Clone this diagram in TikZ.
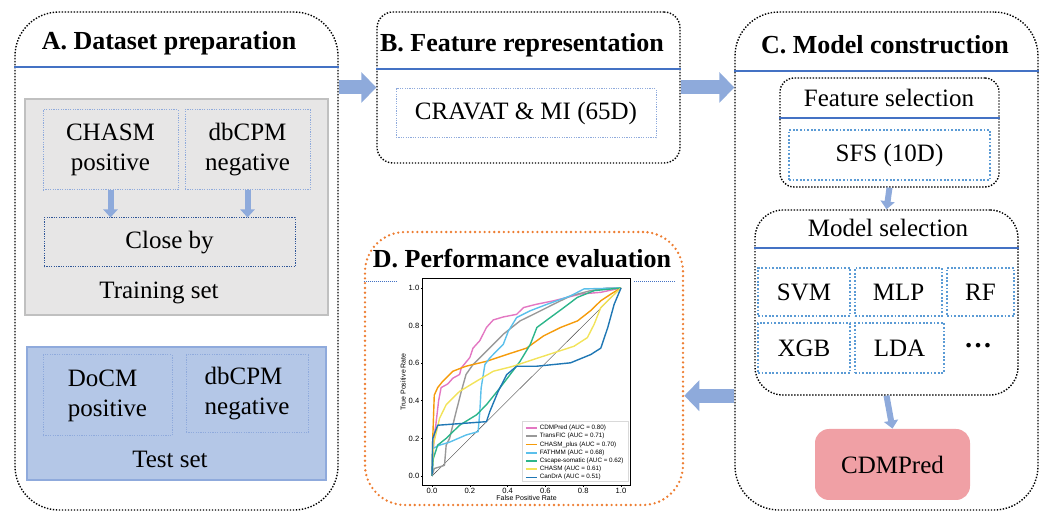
\documentclass[tikz,border=0pt]{standalone}
\usepackage{fontspec}
\setmainfont{Liberation Serif}
\newfontfamily\plotfont{Liberation Sans}
\usepackage{xcolor}
\usepackage{tikz}
\usetikzlibrary{arrows.meta, positioning, fit}

\definecolor{arrowblue}{HTML}{8EAADB}
\definecolor{lineblue}{HTML}{4472C4}
\definecolor{boxblue}{HTML}{8FAADC}
\definecolor{darkblue}{HTML}{2F5597}
\definecolor{midblue}{HTML}{5B9BD5}
\definecolor{traingray}{HTML}{E7E6E6}
\definecolor{trainedge}{HTML}{C0C0C0}
\definecolor{testfill}{HTML}{B4C7E7}
\definecolor{testedge}{HTML}{8FAADC}
\definecolor{predpink}{HTML}{F0A0A5}
\definecolor{evalorange}{HTML}{ED7D31}
\definecolor{roccdm}{HTML}{E377C2}
\definecolor{roctransfic}{HTML}{999999}
\definecolor{rocchasmplus}{HTML}{F59B0A}
\definecolor{rocfathmm}{HTML}{5BC0EB}
\definecolor{roccscape}{HTML}{2CB58A}
\definecolor{rocchasm}{HTML}{F2E35A}
\definecolor{roccandra}{HTML}{1F77B4}

\begin{document}
\begin{tikzpicture}[
    x=0.5pt, y=-0.5pt,
    panel/.style={draw, line width=0.7pt, dash pattern=on 0.7pt off 0.8pt, inner sep=0pt},
    evalpanel/.style={draw=evalorange, line width=1.3pt, dash pattern=on 0pt off 2.4pt, line cap=round, rounded corners=20pt, inner sep=0pt},
    title/.style={font=\fontsize{13}{15}\selectfont\bfseries},
    txt/.style={font=\fontsize{12.5}{15}\selectfont, align=center},
    headline/.style={lineblue, line width=0.6pt},
    srcbox/.style={txt, draw=boxblue, line width=0.5pt, dash pattern=on 0.6pt off 0.6pt, inner sep=0pt},
    modelbox/.style={txt, draw=midblue, line width=0.9pt, dash pattern=on 0.9pt off 0.9pt, inner sep=0pt},
    setbox/.style={draw, line width=0.6pt, inner sep=0pt},
    bigarrow/.style={arrowblue, line width=7pt, -{Triangle[length=7.5pt,width=15pt]}},
    smallarrow/.style={arrowblue, line width=3pt, -{Triangle[length=4pt,width=7pt]}},
    roc/.style={line width=0.7pt, line join=round},
]
    \useasboundingbox (0,0) rectangle (1044,512);

    \node[panel, rounded corners=22pt, fit={(15,12) (338,510)}] (pa) {};
    \node[title] (patitle) at (169,43) {A. Dataset preparation};
    \draw[headline] (pa.west |- 0,67) -- (pa.east |- 0,67);

    \node[setbox, draw=trainedge, fill=traingray, fit={(25,99) (328,315)}] (train) {};
    \node[srcbox, minimum width=67.5pt, minimum height=40pt] (chasmtrain) at (110.5,150) {CHASM\\positive};
    \node[srcbox, minimum width=62.5pt, minimum height=40pt] (dbcpmtrain) at (247.5,150) {dbCPM\\negative};
    \node[srcbox, draw=darkblue, minimum width=125.5pt, minimum height=24.5pt] (closeby) at (169.5,242.5) {Close by};
    \node[txt] (trainlabel) at (159,293) {Training set};

    \draw[smallarrow] (chasmtrain.south) -- (chasmtrain.south |- closeby.north);
    \draw[smallarrow] (dbcpmtrain.south) -- (dbcpmtrain.south |- closeby.north);

    \node[setbox, draw=testedge, fill=testfill, fit={(27,347) (326,480)}] (test) {};
    \node[srcbox, align=left, minimum width=64.5pt, minimum height=40.5pt] (docmtest) at (107.5,395.5) {DoCM\\positive};
    \node[srcbox, align=left, minimum width=61pt, minimum height=39pt] (dbcpmtest) at (247,394) {dbCPM\\negative};
    \node[txt] (testlabel) at (170,459) {Test set};

    \node[panel, rounded corners=8pt, fit={(377,12) (680,163)}] (pb) {};
    \node[title] (pbtitle) at (522,45) {B. Feature representation};
    \draw[headline] (pb.west |- 0,69) -- (pb.east |- 0,69);
    \node[srcbox, minimum width=130pt, minimum height=24.5pt] (cravat) at (526,113.5) {CRAVAT \& MI (65D)};

    \node[panel, rounded corners=22pt, fit={(735,12) (1038,510)}] (pc) {};
    \node[title] (pctitle) at (885,45) {C. Model construction};
    \draw[headline] (pc.west |- 0,71) -- (pc.east |- 0,71);

    \node[panel, rounded corners=7pt, fit={(780,78) (999,187)}] (featsel) {};
    \node[txt] (featseltitle) at (889,98) {Feature selection};
    \draw[headline] (featsel.west |- 0,118) -- (featsel.east |- 0,118);
    \node[modelbox, minimum width=100.5pt, minimum height=25pt] (sfs) at (889.5,155) {SFS (10D)};

    \node[panel, rounded corners=14pt, fit={(755,210) (1018,395)}] (modelsel) {};
    \node[txt] (modelseltitle) at (888,228) {Model selection};
    \draw[headline] (modelsel.west |- 0,248) -- (modelsel.east |- 0,248);
    \node[modelbox, minimum width=46pt, minimum height=24pt] (svm) at (804,292) {SVM};
    \node[modelbox, minimum width=43.5pt, minimum height=24pt] (mlp) at (898.5,292) {MLP};
    \node[modelbox, minimum width=33.5pt, minimum height=24pt] (rf) at (980.5,292) {RF};
    \node[modelbox, minimum width=46pt, minimum height=25pt] (xgb) at (804,348) {XGB};
    \node[modelbox, minimum width=44.5pt, minimum height=25pt] (lda) at (899.5,348) {LDA};
    \node[txt, font=\fontsize{14}{15}\selectfont\bfseries] (moredots) at (978,346) {\ldots};

    \node[txt, fill=predpink, rounded corners=7pt, minimum width=77.5pt, minimum height=35.5pt] (cdmpred) at (892.5,464.5) {CDMPred};

    \draw[smallarrow] (featsel.south) -- (modelsel.north);
    \draw[smallarrow] (modelsel.south) -- (cdmpred.north);

    \node[evalpanel, fit={(365,232) (683,505)}] (pd) {};
    \node[title] (pdtitle) at (522,259) {D. Performance evaluation};
    \draw[lineblue, line width=0.5pt, dash pattern=on 0.5pt off 0.5pt] (pd.west |- 0,282) -- (397,282);
    \draw[lineblue, line width=0.5pt, dash pattern=on 0.5pt off 0.5pt] (634,282) -- (676,282);

    \draw[bigarrow] (pa.east |- pb.west) -- (pb.west);
    \draw[bigarrow] (pb.east) -- (pc.west |- pb.east);
    \draw[bigarrow] (pc.west |- modelsel.south) -- (pd.east |- modelsel.south);

    \begin{scope}[shift={(432,476)}, x=94.5pt, y=94pt, font=\plotfont\fontsize{3.5}{4}\selectfont]
        \draw[line width=0.3pt] (-0.05,-0.05) rectangle (1.05,1.05);
        \foreach \k/\t in {0/0.0,1/0.2,2/0.4,3/0.6,4/0.8,5/1.0} {
            \draw[line width=0.3pt] (\k/5,-0.05) -- ++(0,-0.01);
            \node[anchor=north, inner sep=0.5pt, font=\plotfont\fontsize{3.8}{4}\selectfont] (xtick\k) at (\k/5,-0.058) {\t};
            \draw[line width=0.3pt] (-0.05,\k/5) -- ++(-0.01,0);
            \node[anchor=east, inner sep=0.5pt, font=\plotfont\fontsize{3.8}{4}\selectfont] (ytick\k) at (-0.06,\k/5) {\t};
        }
        \node[rotate=90] (ylab) at (-0.153,0.5) {True Positive Rate};
        \node (xlab) at (0.5,-0.117) {False Positive Rate};
        \draw[black!75, line width=0.2pt] (0,0) -- (1,1);

        \draw[roc, roccdm] plot coordinates {(0,0) (0.012,0.218) (0.02,0.27) (0.035,0.4) (0.048,0.47) (0.084,0.49) (0.11,0.52) (0.146,0.54) (0.155,0.575) (0.2,0.63) (0.217,0.68) (0.253,0.72) (0.288,0.79) (0.324,0.83) (0.377,0.846) (0.448,0.86) (0.484,0.896) (0.555,0.914) (0.644,0.932) (0.786,0.968) (0.893,0.977) (1,1)};
        \draw[roc, roctransfic] plot coordinates {(0,0) (0.012,0.04) (0.04,0.048) (0.066,0.057) (0.075,0.164) (0.093,0.2) (0.11,0.27) (0.128,0.343) (0.155,0.45) (0.18,0.54) (0.217,0.593) (0.27,0.646) (0.324,0.7) (0.377,0.754) (0.466,0.825) (0.537,0.86) (0.644,0.914) (0.733,0.958) (0.84,0.986) (0.93,1) (1,1)};
        \draw[roc, rocchasmplus] plot coordinates {(0,0) (0.004,0.2) (0.012,0.43) (0.03,0.47) (0.057,0.504) (0.11,0.557) (0.18,0.584) (0.288,0.61) (0.395,0.646) (0.5,0.68) (0.59,0.745) (0.68,0.79) (0.77,0.825) (0.84,0.88) (0.893,0.932) (0.947,0.968) (1,1)};
        \draw[roc, rocfathmm] plot coordinates {(0,0) (0.004,0.146) (0.04,0.164) (0.093,0.18) (0.18,0.218) (0.244,0.236) (0.253,0.343) (0.26,0.468) (0.28,0.593) (0.306,0.628) (0.377,0.7) (0.404,0.771) (0.448,0.843) (0.52,0.879) (0.61,0.914) (0.733,0.958) (0.804,0.995) (1,1)};
        \draw[roc, roccscape] plot coordinates {(0,0) (0.007,0.093) (0.03,0.164) (0.075,0.2) (0.146,0.27) (0.235,0.325) (0.288,0.379) (0.359,0.468) (0.413,0.539) (0.466,0.61) (0.52,0.7) (0.555,0.79) (0.626,0.843) (0.698,0.896) (0.769,0.95) (0.858,0.986) (1,1)};
        \draw[roc, rocchasm] plot coordinates {(0,0) (0.007,0.164) (0.04,0.307) (0.075,0.379) (0.146,0.45) (0.235,0.504) (0.324,0.557) (0.43,0.584) (0.537,0.62) (0.644,0.655) (0.751,0.69) (0.822,0.736) (0.858,0.807) (0.893,0.896) (0.947,0.95) (1,1)};
        \draw[roc, roccandra] plot coordinates {(0,0) (0.004,0.2) (0.03,0.27) (0.288,0.289) (0.306,0.343) (0.35,0.45) (0.395,0.539) (0.448,0.584) (0.555,0.584) (0.733,0.602) (0.84,0.646) (0.893,0.68) (0.93,0.79) (0.964,0.914) (1,1)};

        \node[draw=black!15, fill=white, line width=0.3pt, inner sep=0pt, fit={(0.48,0.293) (1.037,-0.027)}] (legend) {};
        \foreach \i/\c/\t in {0/roccdm/CDMPred (AUC = 0.80), 1/roctransfic/TransFIC (AUC = 0.71), 2/rocchasmplus/CHASM\_plus (AUC = 0.70), 3/rocfathmm/FATHMM (AUC = 0.68), 4/roccscape/Cscape-somatic (AUC = 0.62), 5/rocchasm/CHASM (AUC = 0.61), 6/roccandra/CanDrA (AUC = 0.51)} {
            \draw[\c, line width=0.8pt] (0.497,0.255-0.0437*\i) -- (0.556,0.255-0.0437*\i);
            \node[anchor=west, inner sep=0pt, font=\plotfont\fontsize{3.15}{4}\selectfont] (leg\i) at (0.568,0.255-0.0437*\i) {\t};
        }
    \end{scope}
\end{tikzpicture}
\end{document}
